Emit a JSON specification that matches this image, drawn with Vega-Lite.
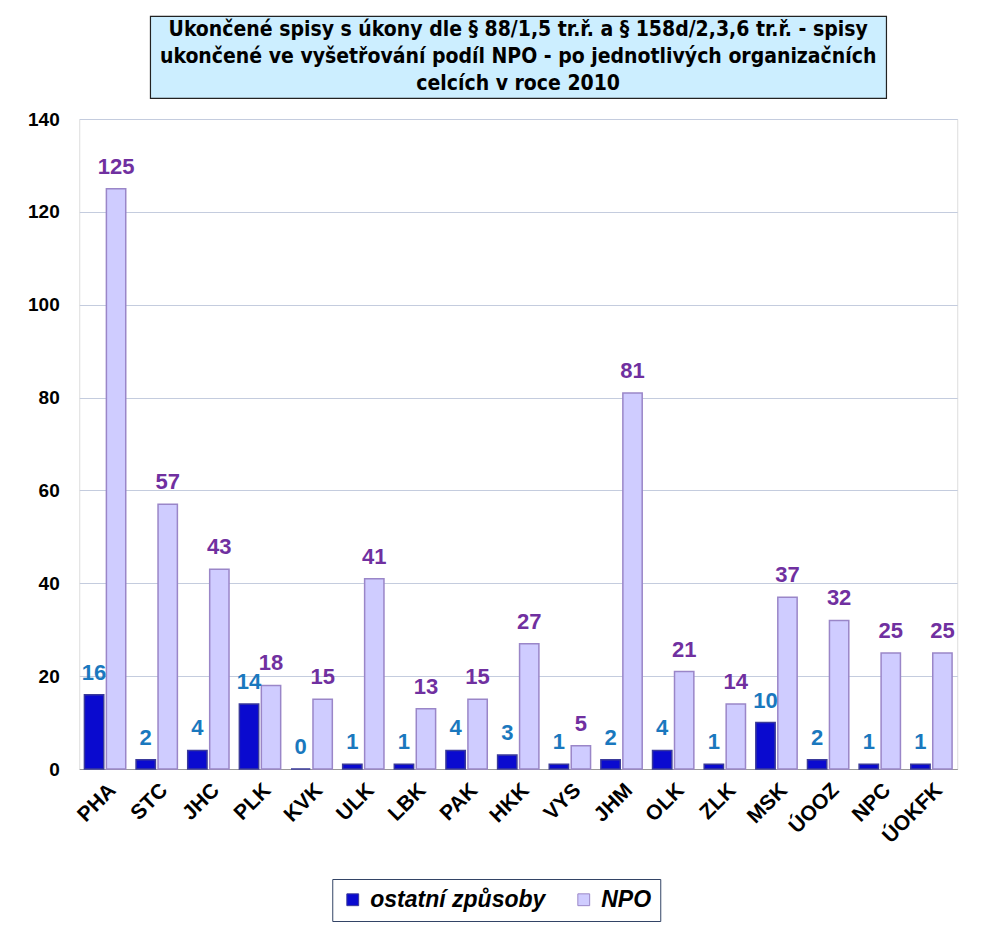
{
  "$schema": "https://vega.github.io/schema/vega-lite/v6.json",
  "background": "white",
  "padding": {"left": 27, "top": 15, "right": 20, "bottom": 10},
  "config": {
    "font": "Liberation Sans",
    "concat": {"spacing": 10}
  },
  "center": true,
  "datasets": {
    "bars": [
      {"kraj": "PHA", "serie": "ostatní způsoby", "pocet": 16},
      {"kraj": "PHA", "serie": "NPO", "pocet": 125},
      {"kraj": "STC", "serie": "ostatní způsoby", "pocet": 2},
      {"kraj": "STC", "serie": "NPO", "pocet": 57},
      {"kraj": "JHC", "serie": "ostatní způsoby", "pocet": 4},
      {"kraj": "JHC", "serie": "NPO", "pocet": 43},
      {"kraj": "PLK", "serie": "ostatní způsoby", "pocet": 14},
      {"kraj": "PLK", "serie": "NPO", "pocet": 18},
      {"kraj": "KVK", "serie": "ostatní způsoby", "pocet": 0},
      {"kraj": "KVK", "serie": "NPO", "pocet": 15},
      {"kraj": "ULK", "serie": "ostatní způsoby", "pocet": 1},
      {"kraj": "ULK", "serie": "NPO", "pocet": 41},
      {"kraj": "LBK", "serie": "ostatní způsoby", "pocet": 1},
      {"kraj": "LBK", "serie": "NPO", "pocet": 13},
      {"kraj": "PAK", "serie": "ostatní způsoby", "pocet": 4},
      {"kraj": "PAK", "serie": "NPO", "pocet": 15},
      {"kraj": "HKK", "serie": "ostatní způsoby", "pocet": 3},
      {"kraj": "HKK", "serie": "NPO", "pocet": 27},
      {"kraj": "VYS", "serie": "ostatní způsoby", "pocet": 1},
      {"kraj": "VYS", "serie": "NPO", "pocet": 5},
      {"kraj": "JHM", "serie": "ostatní způsoby", "pocet": 2},
      {"kraj": "JHM", "serie": "NPO", "pocet": 81},
      {"kraj": "OLK", "serie": "ostatní způsoby", "pocet": 4},
      {"kraj": "OLK", "serie": "NPO", "pocet": 21},
      {"kraj": "ZLK", "serie": "ostatní způsoby", "pocet": 1},
      {"kraj": "ZLK", "serie": "NPO", "pocet": 14},
      {"kraj": "MSK", "serie": "ostatní způsoby", "pocet": 10},
      {"kraj": "MSK", "serie": "NPO", "pocet": 37},
      {"kraj": "ÚOOZ", "serie": "ostatní způsoby", "pocet": 2},
      {"kraj": "ÚOOZ", "serie": "NPO", "pocet": 32},
      {"kraj": "NPC", "serie": "ostatní způsoby", "pocet": 1},
      {"kraj": "NPC", "serie": "NPO", "pocet": 25},
      {"kraj": "ÚOKFK", "serie": "ostatní způsoby", "pocet": 1},
      {"kraj": "ÚOKFK", "serie": "NPO", "pocet": 25}
    ],
    "titul": [
      {"radek": 1, "text": "Ukončené spisy s úkony dle § 88/1,5 tr.ř. a § 158d/2,3,6 tr.ř. - spisy"},
      {"radek": 2, "text": "ukončené ve vyšetřování  podíl NPO  -  po jednotlivých organizačních"},
      {"radek": 3, "text": "celcích  v  roce  2010"}
    ]
  },
  "vconcat": [
    {
      "width": 736,
      "height": 82,
      "view": {"fill": "#CCEEFF", "stroke": "#222222", "strokeWidth": 1.2},
      "data": {"name": "titul"},
      "mark": {"type": "text", "font": "'DejaVu Sans Condensed', 'Liberation Sans', sans-serif", "fontWeight": "bold", "fontSize": 21, "color": "#000000", "baseline": "middle"},
      "encoding": {
        "y": {"field": "radek", "type": "ordinal", "axis": null, "scale": {"paddingOuter": 0.35, "paddingInner": 0}},
        "text": {"field": "text"}
      }
    },
    {
      "width": 878,
      "height": 650,
      "data": {"name": "bars"},
      "encoding": {
        "x": {
          "field": "kraj", "type": "nominal", "sort": null,
          "scale": {"paddingInner": 0.2, "paddingOuter": 0.1},
          "axis": {
            "title": null, "labelAngle": -45, "labelFontSize": 21, "labelFontWeight": "bold",
            "labelColor": "#000000", "labelFont": "Liberation Sans", "ticks": false,
            "domainColor": "#999999", "labelPadding": 10
          }
        },
        "xOffset": {"field": "serie", "type": "nominal", "sort": ["ostatní způsoby", "NPO"], "scale": {"paddingInner": 0.12}}
      },
      "layer": [
        {
          "mark": {"type": "bar", "strokeWidth": 1.5},
          "encoding": {
            "y": {
              "field": "pocet", "type": "quantitative",
              "scale": {"domain": [0, 140]},
              "axis": {
                "title": null, "values": [0, 20, 40, 60, 80, 100, 120, 140],
                "labelFontSize": 19, "labelFontWeight": "bold", "labelColor": "#000000",
                "domain": false, "ticks": false, "labelPadding": 20,
                "gridColor": "#C4CCDE", "gridWidth": 1
              }
            },
            "fill": {
              "field": "serie", "type": "nominal",
              "sort": ["ostatní způsoby", "NPO"],
              "scale": {"domain": ["ostatní způsoby", "NPO"], "range": ["#0A0ACF", "#CFCCFF"]},
              "legend": {
                "title": null, "orient": "none", "direction": "horizontal",
                "legendX": 253, "legendY": 760, "labelLimit": 400,
                "labelFontSize": 23, "labelFontStyle": "italic", "labelFontWeight": "bold",
                "labelColor": "#000000", "symbolType": "square", "symbolSize": 140,
                "symbolStrokeWidth": 1, "columnPadding": 26, "labelOffset": 6,
                "strokeColor": "#334466", "fillColor": "#FFFFFF", "padding": 9
              }
            },
            "stroke": {
              "field": "serie", "type": "nominal",
              "scale": {"domain": ["ostatní způsoby", "NPO"], "range": ["#3A3A9A", "#9A86C8"]},
              "legend": null
            }
          }
        },
        {
          "mark": {"type": "text", "dy": -10, "fontSize": 22, "fontWeight": "bold", "baseline": "bottom"},
          "encoding": {
            "y": {"field": "pocet", "type": "quantitative"},
            "text": {"field": "pocet", "type": "quantitative"},
            "color": {
              "field": "serie", "type": "nominal",
              "scale": {"domain": ["ostatní způsoby", "NPO"], "range": ["#1A78BE", "#7030A0"]},
              "legend": null
            }
          }
        }
      ],
      "resolve": {"scale": {"color": "independent", "fill": "independent", "stroke": "independent"}}
    }
  ]
}
